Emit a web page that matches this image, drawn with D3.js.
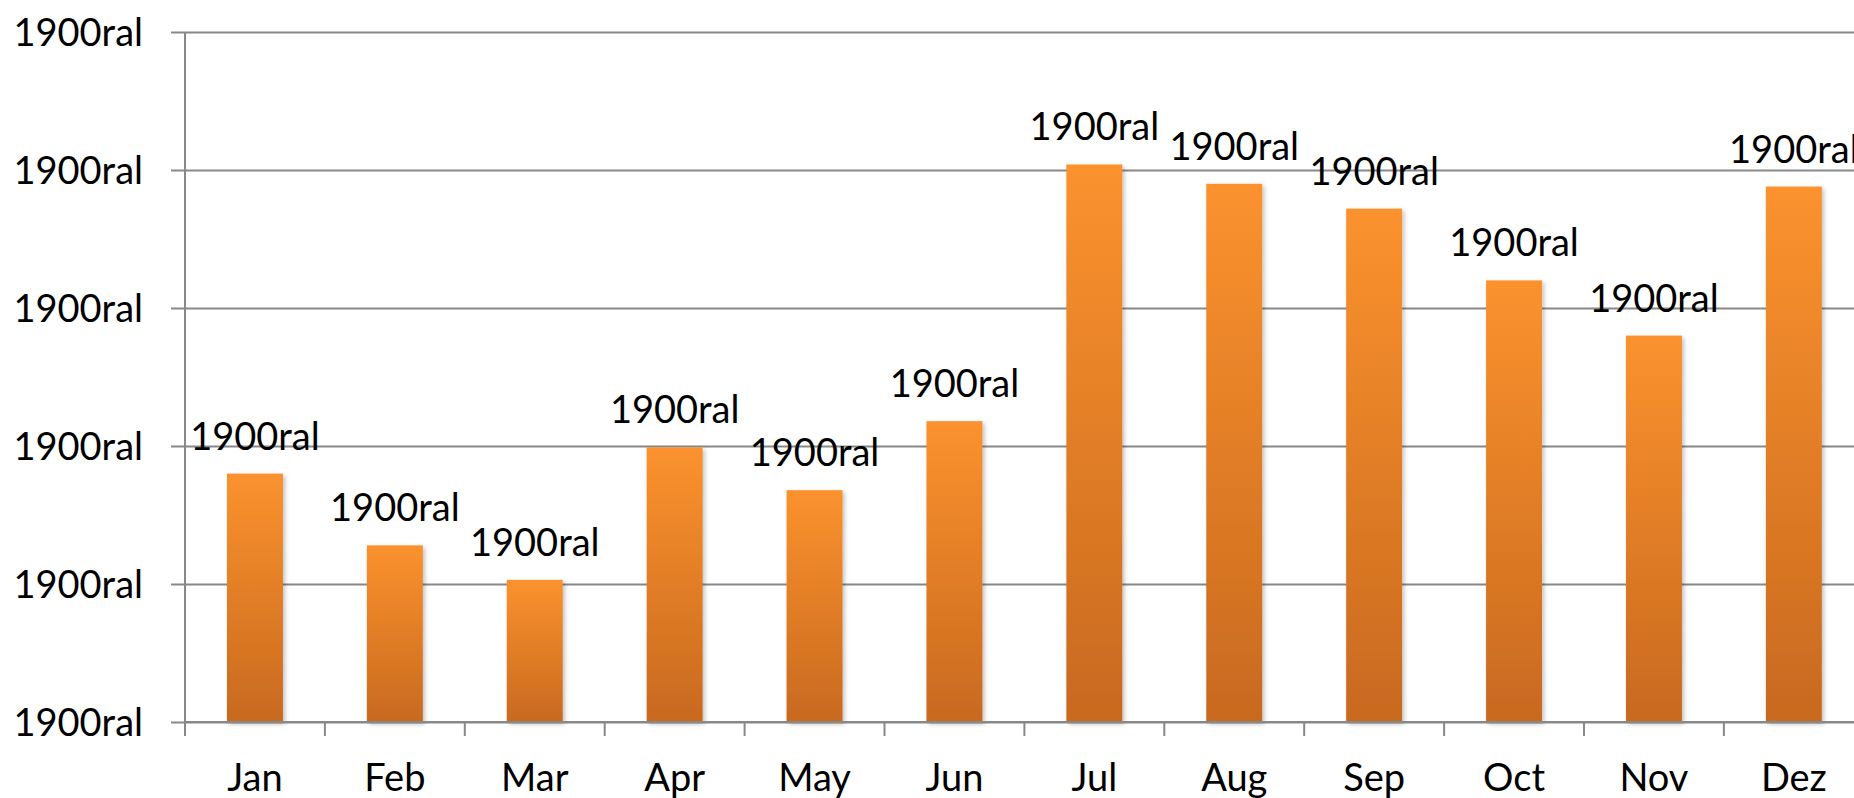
<!DOCTYPE html>
<html>
<head>
<meta charset="utf-8">
<script src="https://cdn.jsdelivr.net/npm/d3@7/dist/d3.min.js"></script>
<style>
  html, body { margin: 0; padding: 0; background: #fff; overflow: hidden; }
  svg { display: block; }
  text { font-family: Lato, "Open Sans", sans-serif; fill: #000; }
</style>
</head>
<body>
<svg id="chart" width="1854" height="798"></svg>
<script>
// ---- data ----
const categories = ["Jan", "Feb", "Mar", "Apr", "May", "Jun", "Jul", "Aug", "Sep", "Oct", "Nov", "Dez"];
const values = [1.80, 1.28, 1.03, 1.99, 1.68, 2.18, 4.04, 3.90, 3.72, 3.20, 2.80, 3.88];
const dataLabels = ["1900ral", "1900ral", "1900ral", "1900ral", "1900ral", "1900ral", "1900ral", "1900ral", "1900ral", "1900ral", "1900ral", "1900ral"];
const yTickValues = [0, 1, 2, 3, 4, 5];
const yTickLabels = ["1900ral", "1900ral", "1900ral", "1900ral", "1900ral", "1900ral"];

// ---- layout ----
const svg = d3.select("#chart");
const x0 = 185, step = 139.9;
const yTop = 32, yBottom = 722;
const fontSize = "38px";

const x = d3.scaleBand().domain(categories).range([x0, x0 + step * categories.length]).paddingInner(0).paddingOuter(0);
const y = d3.scaleLinear().domain([0, 5]).range([yBottom, yTop]);
const barW = x.bandwidth() * 0.4;

const defs = svg.append("defs");
const grad = defs.append("linearGradient").attr("id", "barGrad")
  .attr("x1", 0).attr("y1", 0).attr("x2", 0).attr("y2", 1);
grad.append("stop").attr("offset", "0%").attr("stop-color", "#FB922E");
grad.append("stop").attr("offset", "100%").attr("stop-color", "#C8691F");

const filt = defs.append("filter").attr("id", "shadow")
  .attr("x", "-20%").attr("y", "-5%").attr("width", "150%").attr("height", "115%");
filt.append("feDropShadow").attr("dx", 2).attr("dy", 2).attr("stdDeviation", 2)
  .attr("flood-color", "#000").attr("flood-opacity", 0.25);

const gridColor = "#888888";

// gridlines + y axis labels
const yAxis = d3.axisLeft(y)
  .tickValues(yTickValues)
  .tickFormat((d, i) => yTickLabels[i])
  .tickSizeInner(-(1854 - x0))
  .tickSizeOuter(0)
  .tickPadding(0);
const gy = svg.append("g").attr("transform", `translate(${x0},0)`).call(yAxis);
gy.select(".domain").remove();
gy.selectAll(".tick line").attr("stroke", gridColor).attr("stroke-width", 2).attr("x1", -14);
gy.selectAll(".tick text")
  .attr("x", -42)
  .attr("dy", "0.35em")
  .style("font-size", fontSize)
  .style("font-family", "Lato, 'Open Sans', sans-serif")
  .attr("fill", "#000");

// bars
svg.append("g").selectAll("rect").data(values).join("rect")
  .attr("x", (d, i) => x(categories[i]) + (x.bandwidth() - barW) / 2)
  .attr("width", barW)
  .attr("y", d => y(d))
  .attr("height", d => y(0) - y(d))
  .attr("fill", "url(#barGrad)")
  .attr("filter", "url(#shadow)");

// y axis line
svg.append("line")
  .attr("x1", x0).attr("x2", x0).attr("y1", yTop).attr("y2", yBottom + 14)
  .attr("stroke", gridColor).attr("stroke-width", 2);

// x axis line
svg.append("line")
  .attr("x1", x0).attr("x2", 1854).attr("y1", yBottom).attr("y2", yBottom)
  .attr("stroke", gridColor).attr("stroke-width", 2);

// x boundary ticks
const boundaries = d3.range(categories.length + 1).map(i => x0 + i * x.step());
svg.append("g").selectAll("line").data(boundaries).join("line")
  .attr("x1", d => d).attr("x2", d => d)
  .attr("y1", yBottom).attr("y2", yBottom + 14)
  .attr("stroke", gridColor).attr("stroke-width", 2);

// x labels
svg.append("g").selectAll("text").data(categories).join("text")
  .attr("x", d => x(d) + x.bandwidth() / 2)
  .attr("y", 791)
  .attr("text-anchor", "middle")
  .style("font-size", fontSize)
  .text(d => d);

// data labels
svg.append("g").selectAll("text").data(values).join("text")
  .attr("x", (d, i) => x(categories[i]) + x.bandwidth() / 2)
  .attr("y", d => y(d) - 24)
  .attr("text-anchor", "middle")
  .style("font-size", fontSize)
  .text((d, i) => dataLabels[i]);
</script>
</body>
</html>
